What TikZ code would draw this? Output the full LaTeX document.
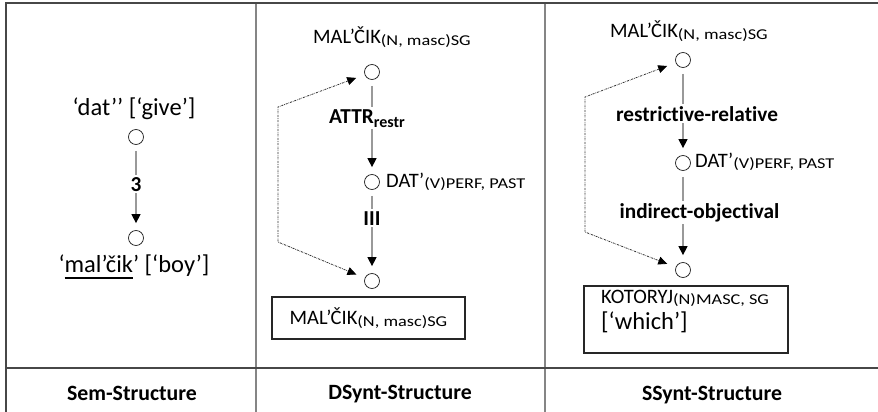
\documentclass[tikz,border=0pt]{standalone}
\usepackage{graphicx}
\usepackage{fontspec}
\setmainfont{Carlito}[Ligatures=CommonOff]
\usetikzlibrary{arrows.meta}
% lowered grammeme subscripts (set wide)
\newcommand\lowsub[1]{\raisebox{-1.8pt}{\scalebox{1.22}[1]{\fontsize{15}{17}\selectfont #1}}}
\newcommand\boldsub[1]{\raisebox{-4pt}{\fontsize{16}{18}\selectfont\bfseries #1}}
% underline set well below the baseline
\newcommand\lowrule[1]{\setbox0\hbox{#1}\rlap{\rule[-7pt]{\wd0}{1.6pt}}\box0}

\begin{document}
\begin{tikzpicture}[x=1pt,y=-1pt,
  frame/.style={draw=black!72, line width=1.4pt},
  colsep/.style={draw=black!48, line width=1.6pt},
  vert/.style={circle, draw=black!85, line width=0.75pt, minimum size=15pt, inner sep=0pt},
  lex/.style={inner sep=0pt, font=\fontsize{20.5}{24}\selectfont},
  semlex/.style={inner sep=0pt, font=\fontsize{24.5}{29}\selectfont},
  rel/.style={inner sep=2pt, fill=white, font=\fontsize{21.3}{25}\selectfont\bfseries},
  head/.style={inner sep=0pt, font=\fontsize{21.8}{26}\selectfont\bfseries},
  dep/.style={draw=black!40, line width=1.2pt, shorten <=6pt, shorten >=7pt,
    -{Triangle[length=9pt,width=9pt,color=black]}},
  coref/.style={draw=black!80, line width=0.8pt,
    dash pattern=on 2pt off 1pt on 0.6pt off 1pt,
    shorten <=9pt, shorten >=9pt,
    {Triangle[length=9pt,width=8pt,color=black]}-{Triangle[length=9pt,width=8pt,color=black]}},
  lexbox/.style={draw=black!85, line width=1.4pt, inner sep=0pt},
]
\useasboundingbox (0,0) rectangle (878,412);

% table rules
\draw[colsep] (256,3) -- (256,412);
\draw[colsep] (545,3) -- (545,412);
\draw[frame] (6,412) -- (6,3) -- (878,3);
\draw[frame] (6,368) -- (878,368);

% ---- semantic structure
\node[semlex, anchor=base] (s1lab) at (134,115) {‘dat’’ [‘give’]};
\node[vert] (s1) at (136,137) {};
\node[vert] (s2) at (136,238) {};
\node[semlex, anchor=base] (s2lab) at (134,272) {‘\lowrule{mal’čik}’ [‘boy’]};
\draw[dep] (s1) -- (s2);
\node[rel, anchor=base] (s12) at (136,191) {3};

% ---- deep-syntactic structure
\node[lex, anchor=base west] (d1lab) at (313,44) {MAL’ČIK\lowsub{(N, masc)SG}};
\node[vert] (d1) at (372,72) {};
\node[vert] (d2) at (372,182) {};
\node[lex, anchor=base west] (d2lab) at (386,187) {DAT’\lowsub{(V)PERF, PAST}};
\node[vert] (d3) at (372,281) {};
\node[lexbox, lex, minimum width=193pt, minimum height=42pt] (d3box) at (368.5,318)
  {MAL’ČIK\lowsub{(N, masc)SG}};
\coordinate (dk1) at (278,107);
\coordinate (dk2) at (278,242);
\draw[dep] (d1) -- (d2);
\draw[dep] (d2) -- (d3);
\draw[coref] (d1) -- (dk1) -- (dk2) -- (d3);
\node[rel, anchor=base] (d12) at (367,123) {ATTR\boldsub{restr}};
\node[rel, anchor=base] (d23) at (372,225) {III};

% ---- surface-syntactic structure
\node[lex, anchor=base west] (t1lab) at (610,38) {MAL’ČIK\lowsub{(N, masc)SG}};
\node[vert] (t1) at (683,60) {};
\node[vert] (t2) at (683,163) {};
\node[lex, anchor=base west] (t2lab) at (695,167) {DAT’\lowsub{(V)PERF, PAST}};
\node[vert] (t3) at (683,270) {};
\node[lexbox, minimum width=204pt, minimum height=67pt] (t3box) at (686,319.5) {};
\node[lex, anchor=base west] (t3lex) at (601,303) {KOTORYJ\lowsub{(N)MASC, SG}};
\node[semlex, anchor=base west] (t3gloss) at (601,329) {[‘which’]};
\coordinate (tk1) at (585,97);
\coordinate (tk2) at (585,232);
\draw[dep] (t1) -- (t2);
\draw[dep] (t2) -- (t3);
\draw[coref] (t1) -- (tk1) -- (tk2) -- (t3);
\node[rel, anchor=base] (t12) at (697,121) {restrictive-relative};
\node[rel, anchor=base] (t23) at (699.5,218) {indirect-objectival};

% ---- column headings
\node[head, anchor=base] (h1) at (132,400) {Sem-Structure};
\node[head, anchor=base] (h2) at (400,399) {DSynt-Structure};
\node[head, anchor=base] (h3) at (712,400) {SSynt-Structure};
\end{tikzpicture}
\end{document}
